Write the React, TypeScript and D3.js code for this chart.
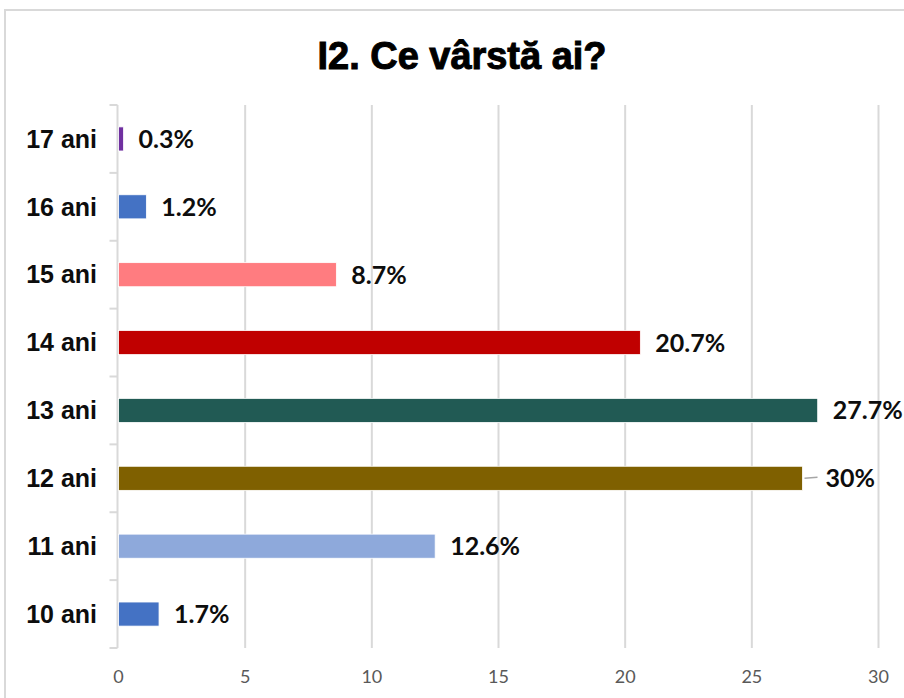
import * as d3 from 'd3'

const title = 'I2. Ce vârstă ai?'
const categories = ['17 ani', '16 ani', '15 ani', '14 ani', '13 ani', '12 ani', '11 ani', '10 ani']
// bar lengths as drawn (the 12 ani bar is shorter than its label says)
const barValues = [0.2, 1.1, 8.6, 20.6, 27.6, 27.0, 12.5, 1.6]
const valueLabels = ['0.3%', '1.2%', '8.7%', '20.7%', '27.7%', '30%', '12.6%', '1.7%']
const barColors = ['#7030A0', '#4472C4', '#FF7C80', '#C00000', '#215A54', '#7F6000', '#8EA9DB', '#4472C4']
const xTicks = [0, 5, 10, 15, 20, 25, 30]

const W = 904
const H = 698

function App() {
    const x = d3.scaleLinear().domain([0, 30]).range([118.5, 878.5])
    const y = d3.scaleBand<string>().domain(categories).range([105, 648]).padding(0)
    const barH = y.bandwidth() * 0.355
    const top = 105
    const bottom = 648

    return (
        <svg
            width={W}
            height={H}
            style={{ position: 'absolute', left: 0, top: 0, background: '#fff' }}
        >
            {/* chart frame, cut off on the right and bottom */}
            <rect x={5} y={10} width={W + 20} height={H + 20} fill="#fff" stroke="#d9d9d9" strokeWidth={2} />

            <text
                x={462}
                y={69}
                textAnchor="middle"
                fontFamily="'Liberation Sans Narrow', 'Liberation Sans', Arial, sans-serif"
                fontWeight="bold"
                fontSize={38}
                fill="#000"
                stroke="#000"
                strokeWidth={1}
                textLength={289}
                lengthAdjust="spacingAndGlyphs"
            >
                {title}
            </text>

            {/* vertical gridlines */}
            {xTicks.slice(1).map((t) => (
                <line key={'g' + t} x1={x(t)} x2={x(t)} y1={top} y2={bottom} stroke="#d9d9d9" strokeWidth={2} />
            ))}

            {/* category axis */}
            <line x1={x(0) - 1} x2={x(0) - 1} y1={top} y2={bottom} stroke="#d9d9d9" strokeWidth={2} />
            {categories.map((c) => (
                <line key={'t' + c} x1={x(0) - 9} x2={x(0) - 1} y1={y(c)!} y2={y(c)!} stroke="#d9d9d9" strokeWidth={2} />
            ))}
            <line x1={x(0) - 9} x2={x(0) - 1} y1={bottom} y2={bottom} stroke="#d9d9d9" strokeWidth={2} />

            {categories.map((c) => (
                <text
                    key={'c' + c}
                    x={97}
                    y={y(c)! + y.bandwidth() / 2}
                    dy="0.35em"
                    textAnchor="end"
                    fontFamily="'Liberation Sans', Arial, sans-serif"
                    fontWeight="bold"
                    fontSize={25}
                    fill="#0d0d0d"
                >
                    {c}
                </text>
            ))}

            {/* bars */}
            {categories.map((c, i) => (
                <rect
                    key={'b' + c}
                    x={x(0)}
                    y={y(c)! + y.bandwidth() / 2 - barH / 2}
                    width={x(barValues[i]) - x(0)}
                    height={barH}
                    fill={barColors[i]}
                    stroke="#fff"
                    strokeWidth={0.8}
                />
            ))}

            {/* value labels */}
            {categories.map((c, i) => {
                const cy = y(c)! + y.bandwidth() / 2
                const end = x(barValues[i])
                const shifted = valueLabels[i] === '30%'
                return (
                    <g key={'v' + c}>
                        {shifted && (
                            <line x1={end + 2} x2={end + 15} y1={cy} y2={cy - 1} stroke="#a6a6a6" strokeWidth={1.5} />
                        )}
                        <text
                            x={end + (shifted ? 23 : 15)}
                            y={cy}
                            dy="0.36em"
                            fontFamily="Lato, 'Open Sans', sans-serif"
                            fontWeight="bold"
                            fontSize={25}
                            fill="#0d0d0d"
                        >
                            {valueLabels[i]}
                        </text>
                    </g>
                )
            })}

            {/* value axis tick labels */}
            {xTicks.map((t) => (
                <text
                    key={'x' + t}
                    x={x(t)}
                    y={677}
                    dy="0.35em"
                    textAnchor="middle"
                    fontFamily="Lato, 'Open Sans', sans-serif"
                    fontSize={18}
                    fill="#595959"
                >
                    {t}
                </text>
            ))}
        </svg>
    )
}

export default App
